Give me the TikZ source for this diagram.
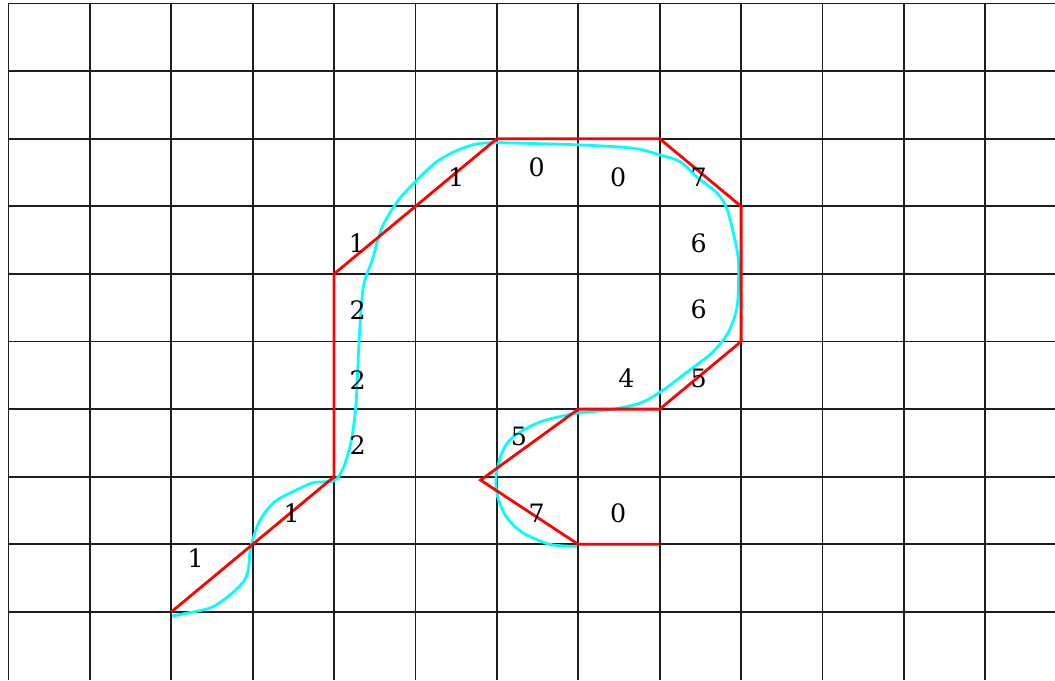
\documentclass[tikz,border=0pt]{standalone}
\usepackage{fontspec}
\setmainfont{DejaVu Serif}
\usetikzlibrary{calc}
\definecolor{gridline}{RGB}{30,30,30}
\definecolor{chainred}{RGB}{255,0,0}
\definecolor{trace}{RGB}{0,255,255}
\tikzset{
  cell/.style={draw=gridline,line width=0.45mm},
  chain/.style={draw=chainred,line width=0.7mm,line join=miter},
  curve/.style={draw=trace,line width=0.7mm,line join=round},
  code/.style={font=\fontsize{18}{20}\selectfont,inner sep=0pt},
}

\begin{document}
\begin{tikzpicture}[x=2.035cm,y=-1.69cm]
    \useasboundingbox (-0.104,-0.052) rectangle (12.856,10.007);
    % grid
    \foreach \i in {0,...,12} \draw[cell] (\i,0) -- (\i,10.007);
    \foreach \j in {0,...,9} \draw[cell] (0,\j) -- (12.856,\j);
    % traced outline
    \draw[curve] plot[smooth,tension=0.5] coordinates {
      (2.01,9.06) (2.27,9.00) (2.50,8.93) (2.72,8.75) (2.90,8.53) (2.95,8.34)
      (2.97,8.08) (3.03,7.82) (3.11,7.60) (3.27,7.37) (3.48,7.23) (3.74,7.09)
      (4.00,7.06) (4.10,6.90) (4.16,6.71) (4.22,6.41) (4.27,5.91) (4.31,4.93)
      (4.36,4.19) (4.47,3.79) (4.59,3.31) (4.79,2.91) (5.02,2.61) (5.24,2.36)
      (5.46,2.20) (5.71,2.09) (5.98,2.06) (6.98,2.09) (7.67,2.14) (8.00,2.24)
      (8.25,2.34) (8.46,2.57) (8.70,2.80) (8.83,3.05) (8.95,3.65) (8.97,3.99)
      (8.95,4.49) (8.84,4.87) (8.64,5.17) (8.37,5.42) (8.04,5.72) (7.76,5.91)
      (7.39,6.01) (6.98,6.06) (6.53,6.19) (6.20,6.41) (6.06,6.65) (5.99,7.00)
      (6.01,7.30) (6.12,7.60) (6.32,7.83) (6.65,8.00) (6.98,8.03)};
    % chain code points
    \foreach \x/\y [count=\i from 0] in {2/9,3/8,4/7,4/6,4/5,4/4,5/3,6/2,7/2,8/2,
      9/3,9/4,9/5,8/6,7/6,5.8/7.05,7/8,8/8}
      \coordinate (p\i) at (\x,\y);
    \draw[chain] (p0) -- (p1) -- (p2) -- (p3) -- (p4) -- (p5) -- (p6) -- (p7) -- (p8)
      -- (p9) -- (p10) -- (p11) -- (p12) -- (p13) -- (p14) -- (p15) -- (p16) -- (p17);
    % code labels
    \foreach \d/\x/\y [count=\i] in {1/2.30/8.20,1/3.48/7.54,2/4.29/6.53,2/4.29/5.57,
      2/4.29/4.53,1/4.28/3.54,1/5.50/2.57,0/6.49/2.42,0/7.49/2.57,7/8.48/2.57,
      6/8.48/3.54,6/8.48/4.53,5/8.48/5.54,4/7.59/5.54,5/6.27/6.41,7/6.49/7.54,0/7.49/7.54}
      \node[code] (c\i) at (\x,\y) {\d};
  \end{tikzpicture}
\end{document}
